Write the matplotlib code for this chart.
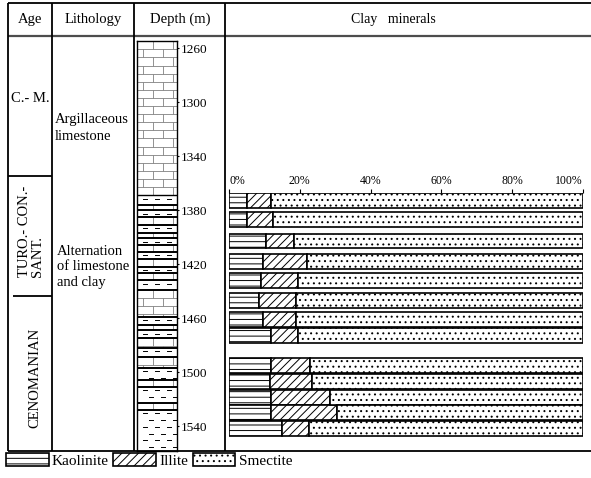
import numpy as np
import matplotlib
matplotlib.use('Agg')
from matplotlib import pyplot as plt
from matplotlib.lines import Line2D

plt.rcParams['font.family'] = ['Liberation Serif', 'DejaVu Serif']
plt.rcParams['hatch.linewidth'] = 0.7

# depth scale of the well log (m)
depth_ticks = [1260, 1300, 1340, 1380, 1420, 1460, 1500, 1540]
log_top, log_base = 1254.8, 1558.5

# lithology beds: top depth of each bed and its rock type
bed_tops = [1255, 1369, 1376, 1380, 1385, 1391, 1397, 1401, 1406, 1411, 1416,
            1422, 1427, 1432, 1439, 1459, 1465, 1469, 1475, 1482, 1489, 1497,
            1506, 1511, 1523, 1528]
bed_rock = ['lime', 'clay'] * 13

# clay mineral fractions (%) of the samples
sample_depth = [1373, 1387, 1403, 1418, 1432, 1447, 1461, 1473, 1495, 1507, 1519, 1530, 1542]
kaolinite = [5, 5, 10.5, 9.5, 9, 8.5, 9.5, 12, 12, 11.5, 12, 12, 15]
illite = [7, 7.5, 8, 12.5, 10.5, 10.5, 9.5, 7.5, 11, 12, 16.5, 18.5, 7.5]
smectite = [88, 87.5, 81.5, 78, 80.5, 81, 81, 80.5, 77, 76.5, 71.5, 69.5, 77.5]
pct_ticks = [0, 20, 40, 60, 80, 100]
pct_labels = ['0%', '20%', '40%', '60%', '80%', '100%']

W, H = 591, 478
fig = plt.figure(figsize=(W / 100, H / 100), dpi=100)


def rect(x0, y0, x1, y1):
    # pixel box (origin top left) -> figure fraction
    return [x0 / W, 1 - y1 / H, (x1 - x0) / W, (y1 - y0) / H]


def line(xs, ys, lw=1.3, color='k'):
    fig.add_artist(Line2D([x / W for x in xs], [1 - y / H for y in ys],
                          lw=lw, color=color, solid_capstyle='butt'))


def text(x, y, s, **kw):
    kw.setdefault('fontsize', 10.5)
    fig.text(x / W, 1 - y / H, s, **kw)


# table frame
line([8, 591], [3, 3])
line([8, 591], [36, 36], color='0.3', lw=1.6)
line([8, 591], [451, 451])
for x in [8, 52, 134, 225]:
    line([x, x], [3, 451])
line([8, 52], [176, 176])
line([13, 52], [296, 296])

text(30, 19, 'Age', ha='center', va='center')
text(93, 19, 'Lithology', ha='center', va='center')
text(180, 19, 'Depth (m)', ha='center', va='center')
text(393, 19, 'Clay   minerals', ha='center', va='center', fontsize=10)
text(11, 99, 'C.- M.', ha='left', va='center')
text(55, 128, 'Argillaceous\nlimestone', ha='left', va='center', linespacing=1.3)
text(57, 267, 'Alternation\nof limestone\nand clay', ha='left', va='center', linespacing=1.25)
text(31, 277, 'TURO.- CON.-\nSANT.', ha='center', va='bottom', rotation=90,
     multialignment='left', linespacing=1.05)
text(35, 378, 'CENOMANIAN', ha='center', va='center', rotation=90)

# lithology log
ax = fig.add_axes(rect(137, 41, 177, 451))
ax.set_xlim(0, 1)
ax.set_ylim(log_base, log_top)
bounds = bed_tops + [log_base]
for top, base, rock in zip(bounds[:-1], bounds[1:], bed_rock):
    if rock == 'lime':
        rows = np.arange(top, base, 6.0)
        ax.hlines(rows[1:], 0, 1, color='0.5', lw=0.6)
        for i, r in enumerate(rows):
            r2 = min(r + 6.0, base)
            joints = [0.4, 0.9] if i % 2 == 0 else [0.15, 0.65]
            ax.vlines(joints, r, r2, color='0.5', lw=0.6)
    else:
        rows = np.arange(top + 2.6, base - 1, 5.0)
        for i, r in enumerate(rows):
            xs = [0.2, 0.5, 0.8] if i % 2 == 0 else [0.35, 0.65, 0.95]
            for x in xs:
                ax.plot([x - 0.06, x + 0.06], [r, r], color='k', lw=0.7)
    if top > bed_tops[0]:
        ax.axhline(top, color='k', lw=1.0 if top < 1369.5 else 1.4)
ax.set_xticks([])
ax.yaxis.tick_right()
ax.set_yticks(depth_ticks)
ax.set_yticklabels([str(d) for d in depth_ticks])
ax.tick_params(axis='y', length=1.5, pad=1, labelsize=9.5, direction='out')
for s in ax.spines.values():
    s.set_linewidth(1.0)

# clay mineral bars
bx = fig.add_axes(rect(229, 193, 583, 451))
bx.set_xlim(0, 100)
bx.set_ylim(log_base, 1367.4)
left_i = np.array(kaolinite)
left_s = left_i + np.array(illite)
kw = dict(height=10.8, color='white', edgecolor='k', lw=1.2)
hk = bx.barh(sample_depth, kaolinite, hatch='---', **kw)
hi = bx.barh(sample_depth, illite, left=left_i, hatch='////', **kw)
hs = bx.barh(sample_depth, smectite, left=left_s, hatch='...', **kw)
for s in bx.spines.values():
    s.set_visible(False)
bx.set_yticks([])
bx.xaxis.tick_top()
bx.set_xticks(pct_ticks)
bx.set_xticklabels(pct_labels)
bx.tick_params(axis='x', length=3, pad=1, labelsize=8.5, direction='out')
labs = bx.get_xticklabels()
labs[0].set_ha('left')
labs[-1].set_ha('right')

fig.legend([hk, hi, hs], ['Kaolinite', 'Illite', 'Smectite'], loc='upper left',
           bbox_to_anchor=(6 / W, 1 - 453 / H), ncol=3, frameon=False, fontsize=11,
           handlelength=2.8, handleheight=0.9, handletextpad=0.2, columnspacing=0.3,
           borderpad=0, borderaxespad=0)

fig.savefig('out.png', dpi=100)
